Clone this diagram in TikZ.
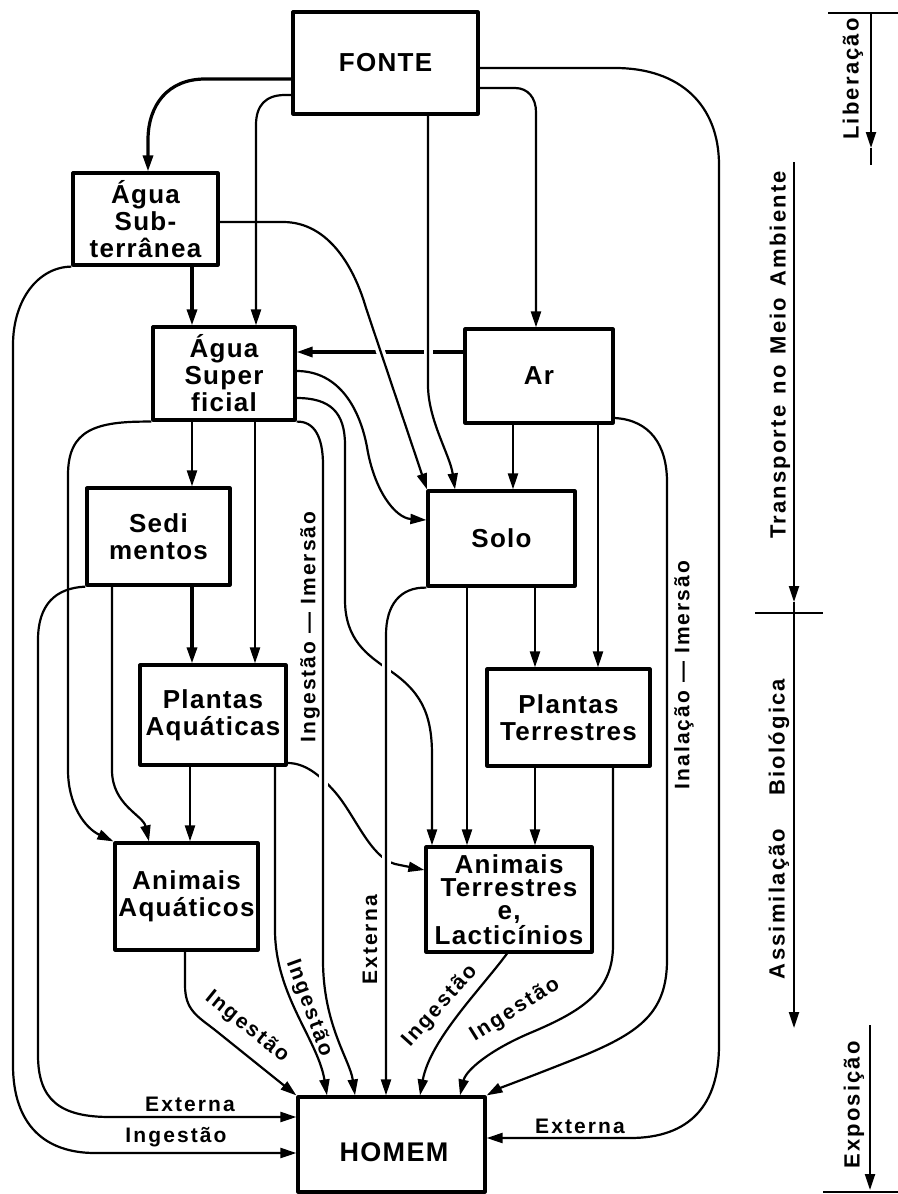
\documentclass[tikz,border=0pt]{standalone}
\usepackage{fontspec}
\setmainfont{Liberation Sans}
\newfontfamily\boxff{Liberation Sans}[LetterSpace=5]
\newfontfamily\lblff{Liberation Sans}[LetterSpace=10]
\usetikzlibrary{arrows.meta}
\tikzset{
 box/.style={draw, line width=1.6pt, inner sep=0pt, align=center, font=\boxff\bfseries\fontsize{13}{13.5}\selectfont},
 ln/.style={line width=1.1pt},
 thk/.style={line width=1.6pt},
 arr/.style={-{Triangle[length=8pt,width=5pt]}},
 lbl/.style={font=\lblff\bfseries\fontsize{10.5}{12}\selectfont, inner sep=0pt},
 bar/.style={font=\lblff\bfseries\fontsize{11}{12}\selectfont, inner sep=0pt},
 gap/.style={draw=white, line width=4.5pt},
}
\begin{document}
\begin{tikzpicture}[x=0.5pt,y=-0.5pt,line join=round]
\useasboundingbox (0,0) rectangle (898,1194);
\fill[white] (0,0) rectangle (898,1194);
% boxes
\node[box, minimum width=92.5pt, minimum height=51pt] (fonte) at (385.5,63) {FONTE};
\node[box, minimum width=72.5pt, minimum height=46pt] (asub) at (145.5,219) {Água\\Sub-\\terrânea};
\node[box, minimum width=71pt, minimum height=46.5pt] (asup) at (224,373.5) {Água\\Super\\ficial};
\node[box, minimum width=74pt, minimum height=47pt] (ar) at (539,376) {Ar};
\node[box, minimum width=71.5pt, minimum height=48.5pt] (sed) at (158.5,536.5) {Sedi\\mentos};
\node[box, minimum width=73.5pt, minimum height=47.5pt] (solo) at (501.5,538.5) {Solo};
\node[box, minimum width=73pt, minimum height=50pt] (plaq) at (213,715) {Plantas\\Aquáticas};
\node[box, minimum width=81.5pt, minimum height=48.5pt] (plte) at (568.5,717.5) {Plantas\\Terrestres};
\node[box, minimum width=71.5pt, minimum height=53.5pt] (anaq) at (186.5,896.5) {Animais\\Aquáticos};
\node[box, minimum width=83pt, minimum height=52.5pt, font=\boxff\bfseries\fontsize{13}{11.5}\selectfont] (ante) at (509,899.5) {Animais\\Terrestres\\e,\\Lacticínios};
\node[box, minimum width=93.5pt, minimum height=47.5pt] (homem) at (391.5,1144.5) {};
\node[font=\boxff\bfseries\fontsize{13.5}{14}\selectfont, inner sep=0pt] (homemtxt) at (394,1152) {HOMEM};
% lines that are crossed (drawn first)
\draw[thk,arr] (ar.west |- 0,352) -- (asup.east |- 0,352);
\draw[ln,arr] (asup.east |- 0,398) .. controls (330,398) and (345,412) .. (345,445) -- (345,600) .. controls (345,640) and (368,655) .. (386,668) .. controls (420,690) and (432,712) .. (432,755) -- (ante.north -| 432,0);
\draw[ln,arr] (plaq.east |- 0,763) .. controls (305,763) and (320,775) .. (335,792) .. controls (355,815) and (370,857) .. (395,864) -- (ante.west |- 0,870);
% gaps
\draw[gap] (428,340) -- (428,364);
\draw[gap] (376.7,340) -- (384.7,364);
\draw[gap] (386,652) -- (386,684);
\draw[gap] (323,765) -- (323,792);
\draw[gap] (386,849) -- (386,877);
% connectors
\draw[thk,arr] (fonte.west |- 0,79) -- (205,79) .. controls (168,79) and (148,105) .. (148,140) -- (asub.north -| 148,0);
\draw[ln,arr] (fonte.west |- 0,95) -- (285,95) .. controls (266,95) and (256,105) .. (256,125) -- (asup.north -| 256,0);
\draw[ln,arr] (fonte.south -| 428,0) -- (428,385) .. controls (428,420) and (450,455) .. (solo.north -| 455,0);
\draw[ln,arr] (fonte.east |- 0,88) -- (515,88) .. controls (528,88) and (536,98) .. (536,112) -- (ar.north -| 536,0);
\draw[ln,arr] (fonte.east |- 0,68) -- (615,68) .. controls (680,68) and (719,105) .. (719,165) -- (719,1045) .. controls (719,1105) and (690,1138) .. (630,1138) -- (homem.east |- 0,1138);
\draw[ln,arr] (asub.east |- 0,222) -- (283,222) .. controls (330,222) and (355,270) .. (366,308) -- (solo.north -| 427,0);
\draw[thk,arr] (asub.south -| 192,0) -- (asup.north -| 192,0);
\draw[ln,arr] (asub.south west) .. controls (38,267) and (13,300) .. (13,345) -- (13,1065) .. controls (13,1125) and (45,1153) .. (95,1153) -- (homem.west |- 0,1153);
\draw[ln,arr] (asup.south west) .. controls (95,421) and (68,430) .. (68,475) -- (68,770) .. controls (68,805) and (85,828) .. (anaq.north west);
\draw[ln,arr] (sed.south west) .. controls (55,588) and (38,605) .. (38,640) -- (38,1055) .. controls (38,1100) and (60,1117) .. (110,1117) -- (homem.west |- 0,1117);
\draw[ln,arr] (sed.south -| 112,0) -- (112,770) .. controls (112,805) and (143,815) .. (anaq.north -| 149,0);
\draw[ln,arr] (asup.south -| 192,0) -- (sed.north -| 192,0);
\draw[ln,arr] (asup.south -| 255,0) -- (plaq.north -| 255,0);
\draw[thk,arr] (sed.south -| 192,0) -- (plaq.north -| 192,0);
\draw[ln,arr] (plaq.south -| 190,0) -- (anaq.north -| 190,0);
\draw[ln,arr] (plaq.south -| 275,0) -- (275,930) .. controls (275,995) and (318,1040) .. (homem.north -| 327,0);
\draw[ln,arr] (asup.south east) .. controls (315,421) and (323,438) .. (323,465) -- (323,960) .. controls (323,1025) and (350,1060) .. (homem.north -| 355,0);
\draw[ln,arr] (solo.south west) .. controls (400,587) and (386,605) .. (386,635) -- (homem.north -| 386,0);
\draw[ln,arr] (asup.east |- 0,371) .. controls (340,371) and (360,410) .. (367,447) .. controls (374,490) and (395,518) .. (solo.west |- 0,520);
\draw[ln,arr] (ar.south -| 513,0) -- (solo.north -| 513,0);
\draw[ln,arr] (ar.south -| 598,0) -- (plte.north -| 598,0);
\draw[ln,arr] (ar.east |- 0,418) .. controls (650,420) and (667,445) .. (667,482) -- (667,960) .. controls (667,1012) and (640,1032) .. (585,1055) .. controls (535,1075) and (500,1088) .. (homem.north east);
\draw[ln,arr] (solo.south -| 467,0) -- (ante.north -| 467,0);
\draw[ln,arr] (solo.south -| 535,0) -- (plte.north -| 535,0);
\draw[ln,arr] (plte.south -| 535,0) -- (ante.north -| 535,0);
\draw[ln,arr] (plte.south -| 613,0) -- (613,945) .. controls (613,990) and (585,1010) .. (530,1033) .. controls (490,1050) and (466,1070) .. (homem.north -| 460,0);
\draw[ln,arr] (ante.south -| 507,0) .. controls (480,990) and (430,1040) .. (homem.north -| 420,0);
\draw[ln,arr] (anaq.south -| 185,0) -- (185,985) .. controls (185,1010) and (197,1016) .. (215,1030) -- (homem.north west);
% labels
\node[lbl] (lext1) at (190,1104) {Externa};
\node[lbl] (ling1) at (176,1137) {Ingestão};
\node[lbl] (lext2) at (580,1126) {Externa};
\node[lbl, rotate=90] (lingim) at (310,627) {Ingestão — Imersão};
\node[lbl, rotate=90] (linim) at (684,675) {Inalação — Imersão};
\node[lbl, rotate=90] (lext3) at (370,940) {Externa};
\node[lbl, rotate=-70] (ling2) at (309,1008) {Ingestão};
\node[lbl, rotate=-39] (ling3) at (247,1027) {Ingestão};
\node[lbl, rotate=48] (ling4) at (440,1006) {Ingestão};
\node[lbl, rotate=32] (ling5) at (515,1010) {Ingestão};
% right bar
\coordinate (l1a) at (871,13); \coordinate (l1b) at (871,148); \coordinate (l1c) at (871,165);
\coordinate (t1a) at (828,13); \coordinate (t1b) at (898,13);
\draw[ln] (t1a) -- (t1b);
\draw[ln,arr] (l1a) -- (l1b); \draw[ln] (l1b) -- (l1c);
\coordinate (l2a) at (794,162); \coordinate (l2b) at (794,602); \coordinate (l2c) at (794,1028);
\coordinate (t2a) at (755,613); \coordinate (t2b) at (823,613);
\draw[ln,arr] (l2a) -- (l2b); \draw[ln,arr] (l2b) -- (l2c);
\draw[ln] (t2a) -- (t2b);
\coordinate (l3a) at (870,1025); \coordinate (l3b) at (870,1190);
\coordinate (t3a) at (823,1192); \coordinate (t3b) at (898,1192);
\draw[ln,arr] (l3a) -- (l3b); \draw[ln] (t3a) -- (t3b);
\node[bar, rotate=90] (tlib) at (853,79) {Liberação};
\node[bar, rotate=90] (ttra) at (780,355) {Transporte\hspace{0.5em}no\hspace{0.5em}Meio\hspace{0.5em}Ambiente};
\node[bar, rotate=90] (tass) at (779,829) {Assimilação\hspace{1.5em}Biológica};
\node[bar, rotate=90] (texp) at (854,1105) {Exposição};
\end{tikzpicture}
\end{document}
